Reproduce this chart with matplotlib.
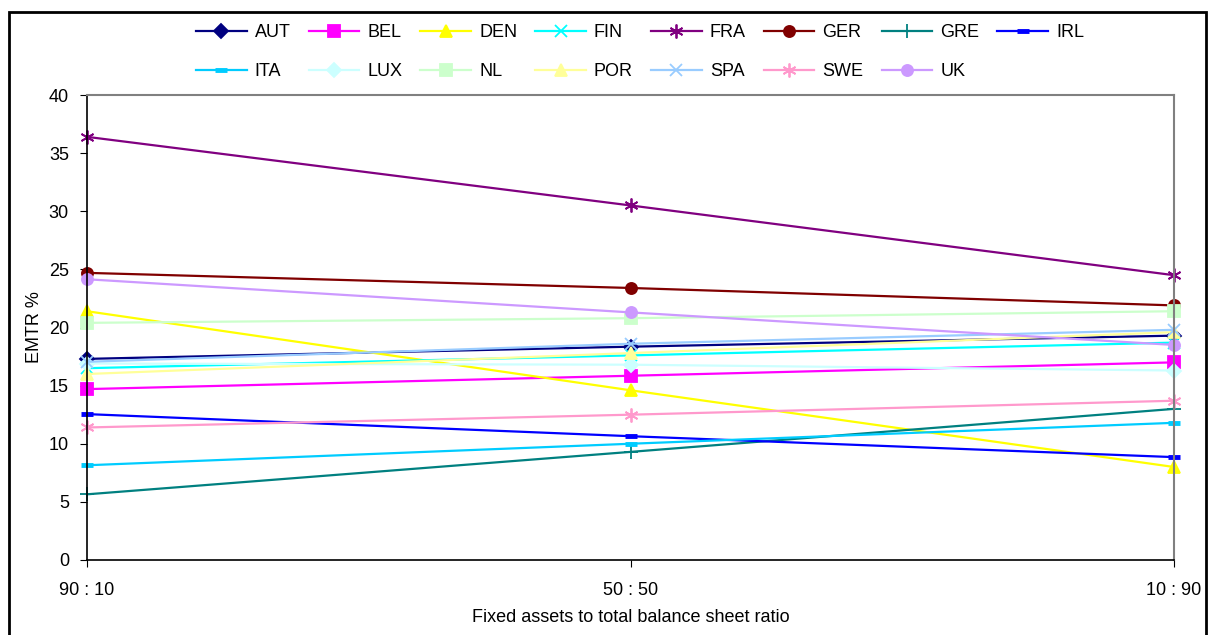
import matplotlib
matplotlib.use('Agg')
import matplotlib.pyplot as plt
from matplotlib.patches import Rectangle

plt.rcParams['font.family'] = ['Liberation Sans', 'DejaVu Sans']

# x categories
ratios = ['90 : 10', '50 : 50', '10 : 90']

# EMTR % per country at each ratio
countries = ['AUT', 'BEL', 'DEN', 'FIN', 'FRA', 'GER', 'GRE', 'IRL',
             'ITA', 'LUX', 'NL', 'POR', 'SPA', 'SWE', 'UK']
aut = [17.3, 18.35, 19.3]
bel = [14.7, 15.85, 17.0]
den = [21.4, 14.6, 8.0]
fin = [16.5, 17.6, 18.7]
fra = [36.4, 30.5, 24.5]
ger = [24.7, 23.4, 21.9]
gre = [5.65, 9.3, 13.0]
irl = [12.55, 10.65, 8.85]
ita = [8.15, 10.0, 11.8]
lux = [16.9, 16.8, 16.3]
nl = [20.4, 20.8, 21.4]
por = [16.0, 17.8, 19.6]
spa = [17.05, 18.6, 19.8]
swe = [11.4, 12.5, 13.7]
uk = [24.15, 21.3, 18.5]
series = [aut, bel, den, fin, fra, ger, gre, irl,
          ita, lux, nl, por, spa, swe, uk]

colors = ['#000080', '#FF00FF', '#FFFF00', '#00FFFF', '#800080', '#800000',
          '#008080', '#0000FF', '#00CCFF', '#CCFFFF', '#CCFFCC', '#FFFF99',
          '#99CCFF', '#FF99CC', '#CC99FF']
star = (6, 2, 0)
markers = ['D', 's', '^', 'x', star, 'o', '+', '_',
           '_', 'D', 's', '^', 'x', star, 'o']
msizes = [7, 8, 9, 9, 10, 8, 10, 8, 8, 7, 8, 9, 9, 10, 8]

W, H = 1213, 635
fig = plt.figure(figsize=(W / 100, H / 100), dpi=100)
ax = fig.add_axes([87 / W, 1 - 560 / H, (1174 - 87) / W, 465 / H])

x = list(range(len(ratios)))
handles = []
for name, vals, c, m, ms in zip(countries, series, colors, markers, msizes):
    mew = 3.5 if m == '_' else 1.3
    h, = ax.plot(x, vals, color=c, lw=1.6, marker=m, markersize=ms,
                 markeredgewidth=mew, markerfacecolor=c, markeredgecolor=c,
                 clip_on=False, label=name)
    handles.append(h)

ax.set_xlim(0, 2)
ax.set_ylim(0, 40)
ax.set_xticks(x)
ax.set_xticklabels(ratios)
ax.set_yticks(range(0, 41, 5))
ax.tick_params(axis='both', labelsize=13, length=5, color='black',
               direction='out')
ax.tick_params(axis='y', pad=8)
ax.tick_params(axis='x', pad=11)
for s in ['top', 'right']:
    ax.spines[s].set_color('#808080')
    ax.spines[s].set_linewidth(1.5)
for s in ['left', 'bottom']:
    ax.spines[s].set_color('black')
    ax.spines[s].set_linewidth(1.2)

ax.set_ylabel('EMTR %', fontsize=13, labelpad=4)
ax.set_xlabel('Fixed assets to total balance sheet ratio', fontsize=13,
              labelpad=7)

# matplotlib fills legend columns first, so interleave rows
row1, row2 = handles[:8], handles[8:]
order = []
for i in range(8):
    order.append(row1[i])
    if i < len(row2):
        order.append(row2[i])
fig.legend(handles=order, labels=[h.get_label() for h in order],
           loc='center', bbox_to_anchor=(640 / W, 1 - 52 / H), ncol=8,
           frameon=False, fontsize=13, handlelength=2.8, handletextpad=0.45,
           columnspacing=1.0, labelspacing=1.2)

fig.patches.append(Rectangle((9 / W, -0.05), (1206 - 9) / W, 1.05 - 12 / H,
                             transform=fig.transFigure, fill=False,
                             edgecolor='black', lw=2, clip_on=False))

fig.savefig('out.png', dpi=100)
